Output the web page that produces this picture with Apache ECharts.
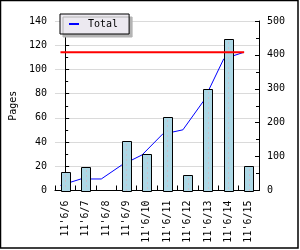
<!DOCTYPE html>
<html>
<head>
<meta charset="utf-8">
<script src="https://cdn.jsdelivr.net/npm/echarts@6/dist/echarts.min.js"></script>
<style>
html,body{margin:0;padding:0;background:#fff;}
#c{width:300px;height:250px;}
</style>
</head>
<body>
<div id="c"></div>
<script>
// ---- data ----
const categories = ["11'6/6","11'6/7","11'6/8","11'6/9","11'6/10","11'6/11","11'6/12","11'6/13","11'6/14","11'6/15"];
const pages = [15, 19, 0, 41, 30, 61, 13, 84, 125, 20];
const totalValues = [15, 34, 34, 75, 105, 166, 179, 263, 388, 408];
const targetValue = 408;
const leftTicks = [0, 20, 40, 60, 80, 100, 120, 140];
const rightTicks = [0, 100, 200, 300, 400, 500];

// ---- layout / style constants ----
const FONT = 'DejaVu Sans Mono';
const LINE_SHIFT = 0.23; // lines are anchored at the bars' left edges
const BAR_W = 9;

const chart = echarts.init(document.getElementById('c'), null, {renderer: 'canvas'});

const lineX = (i) => i - LINE_SHIFT;

chart.setOption({
  animation: false,
  backgroundColor: '#ffffff',
  textStyle: {fontFamily: FONT},
  graphic: [{
    type: 'rect', silent: true, z: 100,
    shape: {x: 0.5, y: 0.5, width: 297.5, height: 247.5},
    style: {fill: 'none', stroke: '#000', lineWidth: 1.5}
  }],
  legend: {
    data: ['Total'],
    left: 60, top: 14,
    backgroundColor: '#ece9f0',
    borderColor: '#000', borderWidth: 1,
    shadowColor: '#b4b4b4', shadowBlur: 0, shadowOffsetX: 3, shadowOffsetY: 3,
    padding: [4, 11, 4, 9],
    itemWidth: 10, itemHeight: 2,
    icon: 'rect',
    textStyle: {fontFamily: FONT, fontSize: 10, lineHeight: 12, color: '#000', padding: [0, 0, 0, 4]}
  },
  grid: {left: 41, right: 41, top: 21, bottom: 59.5, containLabel: false},
  xAxis: [{
    type: 'category',
    data: categories,
    boundaryGap: true,
    axisLine: {lineStyle: {color: '#000', width: 1}},
    axisTick: {show: true, inside: true, length: 5, interval: 0, lineStyle: {color: '#000'}},
    axisLabel: {rotate: 90, interval: 0, margin: 10, fontFamily: FONT, fontSize: 10, color: '#000'},
    splitLine: {show: false}
  }, {
    type: 'value',
    min: -0.5, max: 9.5,
    show: false
  }],
  yAxis: [{
    type: 'value',
    position: 'left',
    min: leftTicks[0], max: leftTicks[leftTicks.length - 1], interval: 20,
    name: 'Pages', nameLocation: 'middle', nameRotate: 90, nameGap: 33,
    nameTextStyle: {fontFamily: FONT, fontSize: 10, color: '#000'},
    axisLine: {show: true, lineStyle: {color: '#000'}},
    axisTick: {show: true, inside: true, length: 4, lineStyle: {color: '#000'}},
    minorTick: {show: true, splitNumber: 2, length: 3, lineStyle: {color: '#000'}},
    axisLabel: {margin: 8, fontFamily: FONT, fontSize: 10, color: '#000'},
    splitLine: {show: true, lineStyle: {color: '#dadada', width: 1}}
  }, {
    type: 'value',
    position: 'right',
    min: rightTicks[0], max: rightTicks[rightTicks.length - 1], interval: 100,
    axisLine: {show: true, lineStyle: {color: '#000'}},
    axisTick: {show: true, inside: true, length: 4, lineStyle: {color: '#000'}},
    minorTick: {show: true, splitNumber: 2, length: 3, lineStyle: {color: '#000'}},
    axisLabel: {margin: 8, fontFamily: FONT, fontSize: 10, color: '#000'},
    splitLine: {show: false}
  }],
  series: [{
    name: 'Total',
    type: 'line',
    xAxisIndex: 1, yAxisIndex: 1,
    z: 1,
    data: totalValues.map((v, i) => [lineX(i), v]),
    showSymbol: false,
    symbol: 'none',
    itemStyle: {color: '#0000ff'},
    lineStyle: {color: '#0000ff', width: 1}
  }, {
    name: 'Pages',
    type: 'custom',
    xAxisIndex: 0, yAxisIndex: 0,
    z: 2,
    data: pages.map((v, i) => [i, v]),
    encode: {x: 0, y: 1},
    renderItem: function (params, api) {
      const idx = api.value(0);
      const v = api.value(1);
      const top = api.coord([idx, v]);
      const bot = api.coord([idx, 0]);
      const x0 = Math.round(top[0] - BAR_W / 2) + 0.5;
      const yTop = Math.round(top[1]) + 0.5;
      const yBot = Math.round(bot[1]) + 0.5;
      const cx = Math.round(top[0]) + 0.5;
      if (v <= 0) return null;
      return {
        type: 'group',
        children: [{
          type: 'rect',
          shape: {x: x0, y: yTop, width: BAR_W, height: yBot - yTop},
          style: {fill: '#add8e6', stroke: '#000', lineWidth: 1}
        }, {
          type: 'line',
          shape: {x1: cx, y1: yTop + 3, x2: cx, y2: yBot - 1},
          style: {stroke: '#e6a8b4', lineWidth: 1, lineDash: [1, 4]}
        }]
      };
    }
  }, {
    name: 'Target',
    type: 'line',
    xAxisIndex: 1, yAxisIndex: 1,
    z: 3,
    data: [[lineX(0), targetValue], [lineX(categories.length - 1), targetValue]],
    showSymbol: false,
    symbol: 'none',
    lineStyle: {color: '#ff0000', width: 2}
  }]
});
</script>
</body>
</html>
